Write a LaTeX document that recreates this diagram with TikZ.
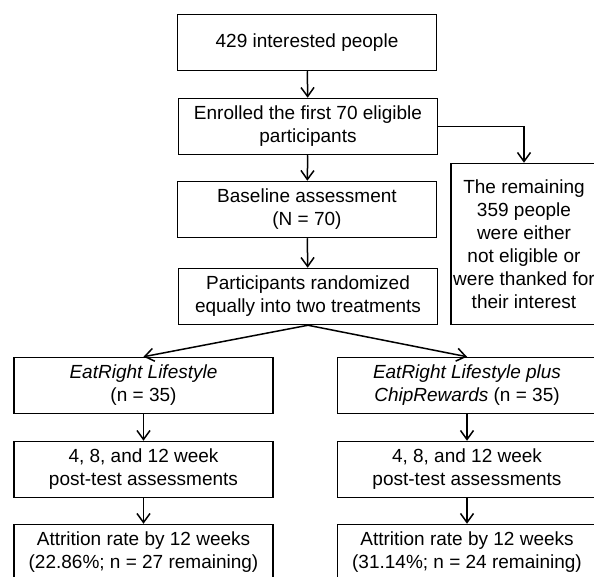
\documentclass[tikz,border=0pt]{standalone}
\usepackage{fontspec}
\setmainfont{Liberation Sans}
\usetikzlibrary{arrows.meta}
\tikzstyle{box}=[rectangle,minimum width=129.5pt,minimum height=28pt,inner sep=0pt,text centered,align=center,draw=black,line width=0.75pt,font=\fontsize{9.5}{11.5}\selectfont]
\tikzstyle{sidebox}=[box,minimum width=73pt,minimum height=80.5pt]
\tikzstyle{arrow}=[line width=0.75pt,-{Straight Barb[length=4.5pt,width=6.5pt]}]

\begin{document}
\begin{tikzpicture}[node distance=42pt]
            \useasboundingbox (0pt,0pt) rectangle (297pt,-288.5pt);
            \node (start)[box] at (153.5pt,-21.25pt){429 interested people};
            \node (enrol)[box,below of=start,xshift=0.5pt,yshift=0pt]{Enrolled the first 70 eligible\\participants};
            \node (excl)[sidebox,below of=enrol,xshift=108pt,yshift=-16.75pt]{The remaining\\359 people\\were either\\not eligible or\\were thanked for\\their interest};
            \node (base)[box,below of=enrol,xshift=-0.5pt,yshift=0.5pt]{Baseline assessment\\(N = 70)};
            \node (rand)[box,below of=base,xshift=0.5pt,yshift=-1.5pt]{Participants randomized\\equally into two treatments};
            \node (armA)[box,below of=rand,xshift=-82.25pt,yshift=-2.5pt]{{\itshape EatRight Lifestyle}\\(n = 35)};
            \node (armB)[box,below of=rand,xshift=79.5pt,yshift=-2.5pt]{{\itshape EatRight Lifestyle plus}\\{\itshape ChipRewards} (n = 35)};
            \node (postA)[box,below of=armA,yshift=0pt]{4, 8, and 12 week\\post-test assessments};
            \node (postB)[box,below of=armB,yshift=0pt]{4, 8, and 12 week\\post-test assessments};
            \node (attrA)[box,below of=postA,yshift=0.5pt]{Attrition rate by 12 weeks\\(22.86\%; n = 27 remaining)};
            \node (attrB)[box,below of=postB,yshift=0.5pt]{Attrition rate by 12 weeks\\(31.14\%; n = 24 remaining)};
            \draw [arrow] (start) -- (enrol);
            \draw [arrow] (enrol.east) -| (excl.north);
            \draw [arrow] (enrol) -- (base);
            \draw [arrow] (base) -- (rand);
            \draw [arrow] (rand.south) -- (armA.north);
            \draw [arrow] (rand.south) -- (armB.north);
            \draw [arrow] (armA) -- (postA);
            \draw [arrow] (armB) -- (postB);
            \draw [arrow] (postA) -- (attrA);
            \draw [arrow] (postB) -- (attrB);
        \end{tikzpicture}
\end{document}
